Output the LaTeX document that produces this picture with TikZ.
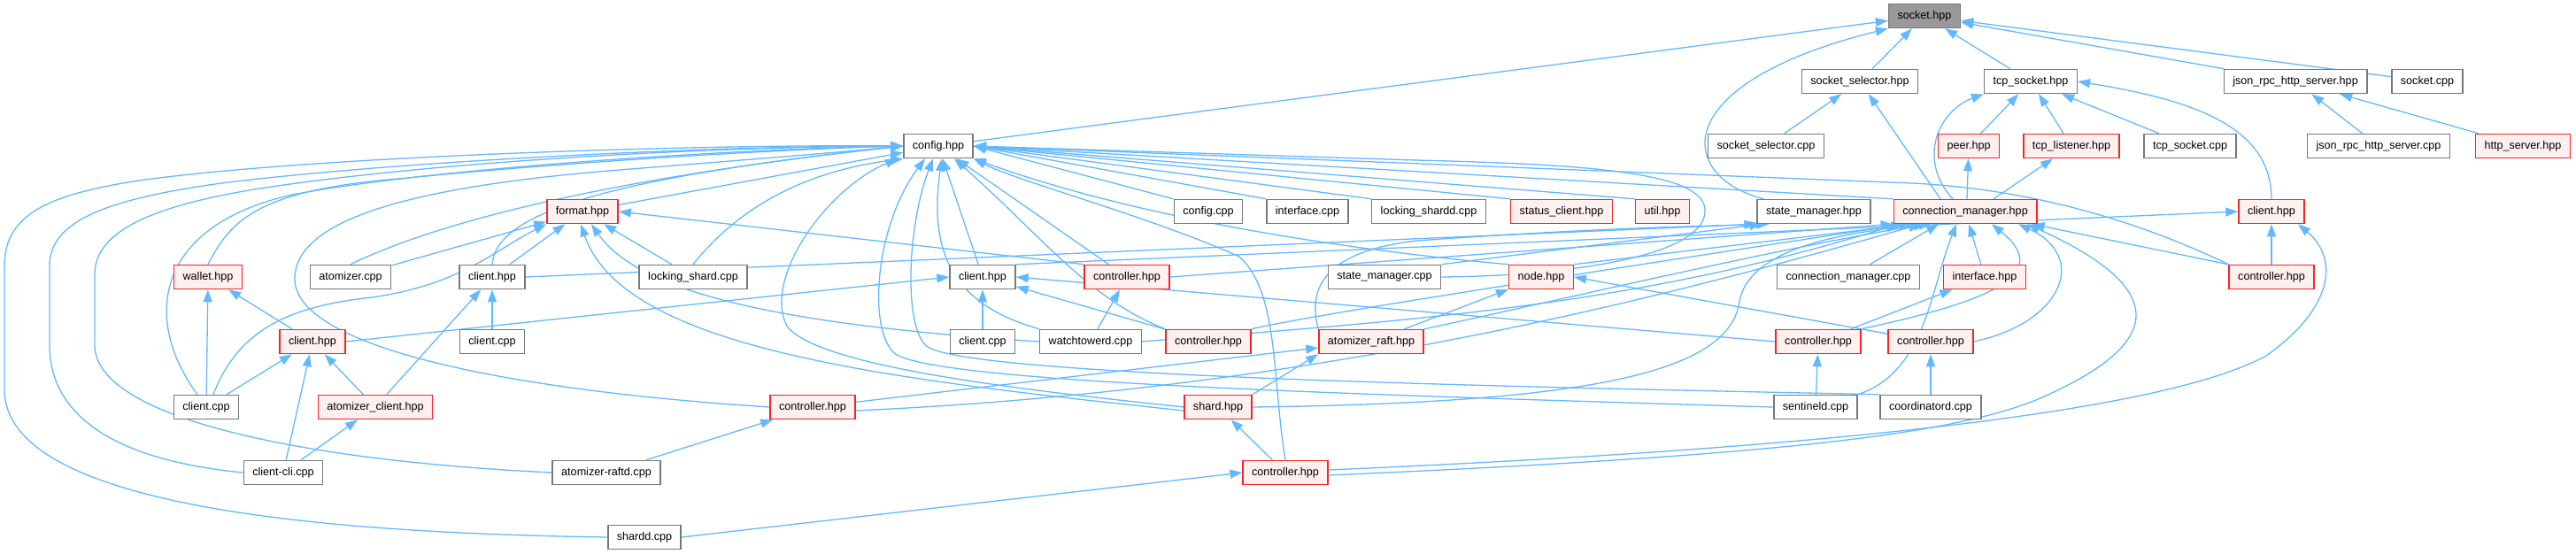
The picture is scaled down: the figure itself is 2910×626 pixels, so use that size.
\documentclass[tikz,border=0pt]{standalone}
\usepackage{fontspec}
\setmainfont{Liberation Sans}
\usetikzlibrary{arrows.meta,backgrounds}
\definecolor{edgeblue}{HTML}{63B8FF}
\definecolor{boxgray}{HTML}{787878}
\definecolor{boxred}{HTML}{F52525}
\definecolor{boxpink}{HTML}{FFF0F0}
\definecolor{curgray}{HTML}{999999}
\begin{document}
\begin{tikzpicture}[x=1pt,y=-1pt,
 box/.style={draw=boxgray, line width=1.5pt, fill=white, minimum height=27pt, inner xsep=10pt, inner ysep=0pt, font=\fontsize{12.6}{15}\selectfont, text=black},
 hl/.style={box, draw=boxred, fill=boxpink},
 cur/.style={box, fill=curgray},
 arr/.style={draw=edgeblue, line width=1.3pt, -{Triangle[length=14pt,width=10pt]}}]
\useasboundingbox (0,0) rectangle (2910,626);
% row 0
\node[cur] (socket) at (2174,18) {socket.hpp};
% row 1
\node[box] (sselh) at (2101,92) {socket\_selector.hpp};
\node[box] (tcph) at (2294,92) {tcp\_socket.hpp};
\node[box] (jrpch) at (2593,92) {json\_rpc\_http\_server.hpp};
\node[box] (sockcpp) at (2742,92) {socket.cpp};
% row 2
\node[box] (config) at (1060,165) {config.hpp};
\node[box] (sselcpp) at (1995,165) {socket\_selector.cpp};
\node[hl] (peer) at (2224,165) {peer.hpp};
\node[hl] (tcpl) at (2340,165) {tcp\_listener.hpp};
\node[box] (tcpcpp) at (2474,165) {tcp\_socket.cpp};
\node[box] (jrpccpp) at (2687,165) {json\_rpc\_http\_server.cpp};
\node[hl] (https) at (2850,165) {http\_server.hpp};
% row 3
\node[hl] (format) at (658,239) {format.hpp};
\node[box] (configcpp) at (1365,239) {config.cpp};
\node[box] (ifacecpp) at (1477,239) {interface.cpp};
\node[box] (lsdcpp) at (1614,239) {locking\_shardd.cpp};
\node[hl] (statusc) at (1764,239) {status\_client.hpp};
\node[hl] (util) at (1878,239) {util.hpp};
\node[box] (smh) at (2049,239) {state\_manager.hpp};
\node[hl] (cmh) at (2220,239) {connection\_manager.hpp};
\node[hl] (clientR) at (2566,239) {client.hpp};
% row 4
\node[hl] (wallet) at (235,313) {wallet.hpp};
\node[box] (atomcpp) at (396,313) {atomizer.cpp};
\node[box] (clienthA) at (556,313) {client.hpp};
\node[box] (lscpp) at (783,313) {locking\_shard.cpp};
\node[box] (clienthB) at (1110,313) {client.hpp};
\node[hl] (ctrlA) at (1273,313) {controller.hpp};
\node[box] (smcpp) at (1564,313) {state\_manager.cpp};
\node[hl] (node) at (1741,313) {node.hpp};
\node[box] (cmcpp) at (2088,313) {connection\_manager.cpp};
\node[hl] (ifaceh) at (2242,313) {interface.hpp};
\node[hl] (ctrlB) at (2566,313) {controller.hpp};
% row 5
\node[hl] (clientRed) at (353,386) {client.hpp};
\node[box] (clientcppA) at (556,386) {client.cpp};
\node[box] (clientcppB) at (1110,386) {client.cpp};
\node[box] (watch) at (1232,386) {watchtowerd.cpp};
\node[hl] (ctrlC) at (1365,386) {controller.hpp};
\node[hl] (araft) at (1549,386) {atomizer\_raft.hpp};
\node[hl] (ctrlD) at (2054,386) {controller.hpp};
\node[hl] (ctrlE) at (2181,386) {controller.hpp};
% row 6
\node[box] (clientcppC) at (233,460) {client.cpp};
\node[hl] (aclient) at (424,460) {atomizer\_client.hpp};
\node[hl] (ctrlF) at (918,460) {controller.hpp};
\node[hl] (shard) at (1376,460) {shard.hpp};
\node[box] (sentinel) at (2051,460) {sentineld.cpp};
\node[box] (coord) at (2181,460) {coordinatord.cpp};
% row 7
\node[box] (cli) at (320,534) {client-cli.cpp};
\node[box] (araftd) at (685,534) {atomizer-raftd.cpp};
\node[hl] (ctrlG) at (1452,534) {controller.hpp};
% row 8
\node[box] (shardd) at (728,607) {shardd.cpp};

\begin{scope}[on background layer]
% into socket.hpp
\draw[arr] (config) -- (socket);
\draw[arr] (sselh) -- (socket);
\draw[arr] (tcph) -- (socket);
\draw[arr] (jrpch) -- (socket);
\draw[arr] (sockcpp) -- (socket);
\draw[arr] ([xshift=8pt]smh.north west) .. controls (1895,200) and (1880,95) .. (socket.south west);
% into socket_selector.hpp / tcp_socket.hpp / json_rpc_http_server.hpp
\draw[arr] (sselcpp) -- (sselh);
\draw[arr] ([xshift=-28pt]cmh.north) -- (sselh);
\draw[arr] (peer) -- (tcph);
\draw[arr] (tcpl) -- (tcph);
\draw[arr] (tcpcpp) -- (tcph);
\draw[arr] ([xshift=-14pt]cmh.north) .. controls (2165,180) and (2190,125) .. (tcph.south west);
\draw[arr] (clientR.north) .. controls (2566,140) and (2470,112) .. (tcph.east);
\draw[arr] (jrpccpp) -- (jrpch);
\draw[arr] (https) -- (jrpch);
\draw[arr] ([xshift=2pt]cmh.north) -- (peer);
\draw[arr] ([xshift=32pt]cmh.north) -- (tcpl);
% into config.hpp from the left
\draw[arr] (shardd.west) .. controls (350,602) and (5,570) .. (5,440) -- (5,300) .. controls (5,240) and (60,220) .. (150,205) .. controls (350,176) and (800,163) .. (config.west);
\draw[arr] (cli.west) .. controls (130,520) and (56,470) .. (56,390) -- (56,300) .. controls (56,250) and (120,225) .. (250,207) .. controls (450,182) and (800,165) .. (config.west);
\draw[arr] (araftd.west) .. controls (330,520) and (107,470) .. (107,390) -- (107,310) .. controls (107,262) and (170,232) .. (300,212) .. controls (500,182) and (800,166) .. (config.west);
\draw[arr] ([xshift=-10pt]clientcppC.north) .. controls (160,360) and (175,255) .. (330,220) .. controls (500,188) and (850,168) .. (config.west);
\draw[arr] (wallet.north) .. controls (260,250) and (290,215) .. (450,202) .. controls (650,182) and (900,168) .. (config.west);
\draw[arr] (ctrlF.west) .. controls (560,440) and (333,390) .. (333,315) .. controls (333,240) and (500,208) .. (700,192) .. controls (850,180) and (950,172) .. (config.west);
\draw[arr] (atomcpp.north) .. controls (500,248) and (700,200) .. (config.west);
\draw[arr] (clienthA.north) .. controls (560,238) and (700,200) .. (config.west);
\draw[arr] (lscpp.north) .. controls (830,240) and (900,195) .. (config.south west);
\draw[arr] (format) -- (config);
% into config.hpp from below
\draw[arr] (shard.west) .. controls (1150,440) and (930,415) .. (890,370) .. controls (860,320) and (930,215) .. ([xshift=-6pt]config.south west);
\draw[arr] (sentinel.west) .. controls (1500,445) and (1080,432) .. (1015,402) .. controls (980,385) and (985,260) .. ([xshift=-15pt]config.south);
\draw[arr] (coord.north west) .. controls (1700,437) and (1100,425) .. (1048,392) .. controls (1020,372) and (1025,255) .. ([xshift=-6pt]config.south);
\draw[arr] (watch.north west) .. controls (1080,345) and (1048,290) .. ([xshift=4pt]config.south);
\draw[arr] (clienthB) -- (config);
\draw[arr] (ctrlA) -- (config);
\draw[arr] (ctrlC.north west) .. controls (1230,338) and (1180,270) .. ([xshift=18pt]config.south);
\draw[arr] (node.north west) .. controls (1550,285) and (1300,252) .. (config.south east);
\draw[arr] (ctrlG.north) .. controls (1437,430) and (1445,330) .. (1400,290) .. controls (1300,245) and (1150,205) .. (config.south east);
\draw[arr] (smcpp.east) .. controls (1760,312) and (1922,292) .. (1926,240) .. controls (1930,195) and (1800,186) .. (1600,181) -- (config.east);
% into config.hpp from the right
\draw[arr] (configcpp.north west) -- (config.east);
\draw[arr] (ifacecpp.north west) -- (config.east);
\draw[arr] (lsdcpp.north west) -- (config.east);
\draw[arr] (statusc.north west) -- (config.east);
\draw[arr] (util.north west) -- (config.east);
\draw[arr] (cmh.north west) -- (config.east);
\draw[arr] (ctrlB.north west) .. controls (2420,252) and (2300,214) .. (2160,207) -- (config.east);
% into format.hpp
\draw[arr] (atomcpp) -- (format);
\draw[arr] (clienthA) -- (format);
\draw[arr] (lscpp) -- (format);
\draw[arr] (ctrlA.north west) -- (format.east);
\draw[arr] ([xshift=8pt]clientcppC.north) .. controls (270,370) and (330,346) .. (420,336) .. controls (520,322) and (560,282) .. (format.south west);
\draw[arr] (watch.west) .. controls (900,368) and (725,335) .. ([xshift=10pt]format.south);
\draw[arr] ([yshift=-4pt]shard.west) .. controls (1000,428) and (705,395) .. ([xshift=-2pt]format.south);
% state_manager.hpp
\draw[arr] (clienthA.east) -- (smh.south west);
\draw[arr] (smcpp.north east) -- ([xshift=6pt]smh.south west);
\draw[arr] (araft.north west) .. controls (1478,330) and (1490,285) .. (1600,272) .. controls (1800,258) and (1900,256) .. ([xshift=14pt]smh.south west);
% connection_manager.hpp
\draw[arr] (ctrlA.east) -- (cmh.south west);
\draw[arr] (watch.east) .. controls (1600,362) and (1850,345) .. ([xshift=6pt]cmh.south west);
\draw[arr] (ctrlC.north east) .. controls (1500,352) and (1900,292) .. ([xshift=12pt]cmh.south west);
\draw[arr] ([yshift=-4pt]ctrlF.east) .. controls (1500,440) and (1900,330) .. ([xshift=-50pt]cmh.south);
\draw[arr] (araft.north east) .. controls (1750,342) and (2000,282) .. ([xshift=-44pt]cmh.south);
\draw[arr] (shard.east) .. controls (1800,455) and (1955,420) .. (1965,340) .. controls (1975,290) and (2050,265) .. ([xshift=-38pt]cmh.south);
\draw[arr] (node.north east) -- ([xshift=-60pt]cmh.south);
\draw[arr] (cmcpp) -- ([xshift=-30pt]cmh.south);
\draw[arr] (ifaceh) -- (cmh);
\draw[arr] (ctrlD.north east) .. controls (2250,340) and (2320,310) .. ([xshift=30pt]cmh.south);
\draw[arr] (ctrlE.east) .. controls (2330,365) and (2360,290) .. ([xshift=60pt]cmh.south);
\draw[arr] (ctrlB.north west) -- ([xshift=-6pt]cmh.south east);
\draw[arr] (sentinel.north east) .. controls (2175,420) and (2180,330) .. ([xshift=-10pt]cmh.south);
\draw[arr] ([yshift=-3pt]ctrlG.east) .. controls (2000,515) and (2200,492) .. (2300,452) .. controls (2440,392) and (2460,330) .. ([xshift=70pt]cmh.south);
% client.hpp (right)
\draw[arr] (clienthB.north east) -- (clientR.west);
\draw[arr] (ctrlB) -- (clientR);
\draw[arr] ([yshift=3pt]ctrlG.east) .. controls (2100,505) and (2450,462) .. (2560,402) .. controls (2640,345) and (2640,290) .. ([xshift=30pt]clientR.south);
% node.hpp
\draw[arr] (araft) -- (node);
\draw[arr] (ctrlE) -- (node.east);
% controllers and others
\draw[arr] (ctrlD) -- (ifaceh);
\draw[arr] (ctrlD.west) -- (clienthB.east);
\draw[arr] (sentinel) -- (ctrlD);
\draw[arr] (coord) -- (ctrlE);
\draw[arr] (watch) -- (ctrlA);
\draw[arr] (ctrlC) -- (clienthB);
\draw[arr] (clientcppB) -- (clienthB);
\draw[arr] (clientRed.east) -- (clienthB.west);
\draw[arr] (ctrlF) -- (araft);
\draw[arr] (shard.north east) -- (araft.south west);
\draw[arr] (ctrlG) -- (shard);
\draw[arr] (shardd.east) -- (ctrlG.west);
\draw[arr] (araftd) -- (ctrlF);
% left cluster
\draw[arr] (clientcppC) -- (wallet);
\draw[arr] (clientRed) -- (wallet);
\draw[arr] (clientcppC) -- (clientRed);
\draw[arr] (aclient) -- (clientRed);
\draw[arr] (cli) -- (clientRed);
\draw[arr] (cli) -- (aclient);
\draw[arr] (aclient) -- (clienthA);
\draw[arr] (clientcppA) -- (clienthA);
\end{scope}
\end{tikzpicture}
\end{document}
